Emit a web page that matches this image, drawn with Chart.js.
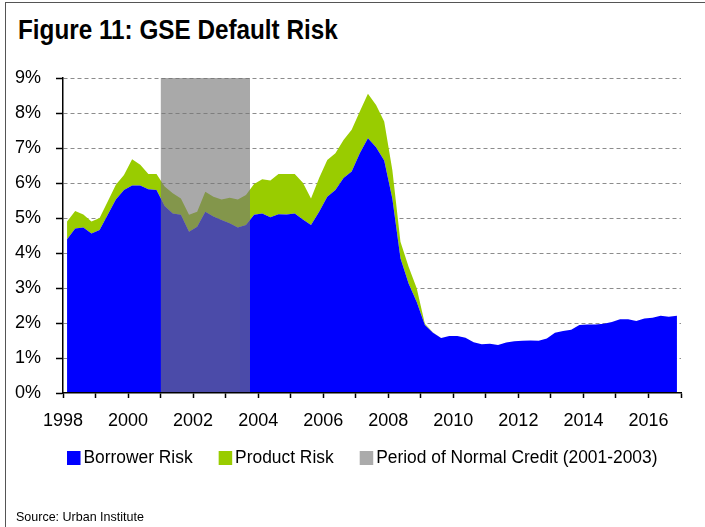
<!DOCTYPE html>
<html>
<head>
<meta charset="utf-8">
<script src="https://cdn.jsdelivr.net/npm/chart.js@4/dist/chart.umd.min.js"></script>
<style>
  body{margin:0;background:#fff;font-family:"Liberation Sans",Arial,sans-serif;}
  #wrap{position:relative;width:705px;height:527px;overflow:hidden;}
  #frame{position:absolute;left:5px;top:2px;width:800px;height:600px;border-left:1.5px solid #555;border-top:1.5px solid #555;}
  #title{position:absolute;left:18px;top:16px;font-size:28px;line-height:28px;font-weight:bold;color:#000;white-space:nowrap;transform-origin:0 0;}
  #legend{position:absolute;left:67px;top:448px;display:flex;font-size:18px;line-height:18px;color:#000;white-space:nowrap;transform-origin:0 0;}
  #legend span.it{display:flex;align-items:center;margin-right:27px;}
  #legend i{display:inline-block;width:14px;height:14px;margin-right:3px;margin-top:1px;}
  #source{position:absolute;left:16px;top:510px;font-size:13px;line-height:13px;color:#000;white-space:nowrap;transform-origin:0 0;}
  canvas{position:absolute;left:0;top:0;}
</style>
</head>
<body>
<div id="wrap">
  <div id="frame"></div>
  <div id="title">Figure 11: GSE Default Risk</div>
  <canvas id="grafico" width="705" height="527"></canvas>
  <div id="legend"></div>
  <div id="source">Source: Urban Institute</div>
</div>
<script>
// trimestres 1998Q1 .. 2016Q4
const quarters = []
for(let y=1998;y<=2016;y++){ for(let q=1;q<=4;q++){ quarters.push(y+'Q'+q) } }

const borrowerRisk = [4.39,4.70,4.73,4.56,4.66,5.09,5.53,5.80,5.93,5.93,
  5.82,5.80,5.34,5.13,5.09,4.61,4.75,5.18,5.04,4.94,
  4.85,4.73,4.80,5.09,5.13,5.02,5.11,5.10,5.13,4.96,
  4.80,5.18,5.61,5.80,6.14,6.33,6.85,7.28,7.02,6.64,
  5.56,3.85,3.13,2.60,1.94,1.72,1.57,1.63,1.63,1.58,
  1.45,1.39,1.41,1.37,1.44,1.48,1.49,1.50,1.49,1.56,
  1.72,1.77,1.81,1.94,1.96,1.96,1.98,2.03,2.11,2.11,
  2.06,2.13,2.15,2.21,2.18,2.21]
const productRisk = [0.51,0.50,0.37,0.34,0.34,0.38,0.42,0.43,0.75,0.59,
  0.44,0.46,0.56,0.58,0.47,0.48,0.43,0.57,0.57,0.59,
  0.73,0.80,0.86,0.88,0.98,1.05,1.15,1.16,1.13,1.05,
  0.76,0.96,1.05,1.05,1.09,1.19,1.19,1.27,1.21,1.12,
  0.81,0.47,0.48,0.39,0.04,0.01,0,0,0,0,
  0,0,0,0,0,0,0,0,0,0,
  0,0,0,0,0,0,0,0,0,0,
  0,0,0,0,0,0]
// periodo de credito normal (2001 - 2003Q3)
const normalPeriod = [2001, 2003.75]
const normalTop = 9

const yTicks = [0,1,2,3,4,5,6,7,8,9]
const xMin = 1998, xMax = 2017

const legendItems = [
  {label:'Borrower Risk', color:'#0000ff'},
  {label:'Product Risk', color:'#99cc00'},
  {label:'Period of Normal Credit (2001-2003)', color:'#ababab'}
]

window.addEventListener('load',()=>{
  const toX = q => parseInt(q.slice(0,4)) + (parseInt(q.slice(5))-0.5)/4
  const pts = arr => arr.map((v,i)=>({x:toX(quarters[i]), y:v}))

  const FONT = '"Liberation Sans",Arial,sans-serif'

  let ctx = document.getElementById('grafico').getContext('2d')
  new Chart(ctx,{
    type:'line',
    data:{
      datasets:[
        {
          label:'Period of Normal Credit (2001-2003)',
          data:normalPeriod.map(x=>({x:x,y:normalTop})),
          stack:'period',
          fill:'origin',
          backgroundColor:'rgba(118,118,118,0.63)',
          borderWidth:0,
          pointRadius:0,
          order:0
        },
        {
          label:'Borrower Risk',
          data:pts(borrowerRisk),
          stack:'risk',
          fill:'origin',
          backgroundColor:'#0000ff',
          borderWidth:0,
          pointRadius:0,
          tension:0,
          order:1
        },
        {
          label:'Product Risk',
          data:pts(productRisk),
          stack:'risk',
          fill:'-1',
          backgroundColor:'#99cc00',
          borderWidth:0,
          pointRadius:0,
          tension:0,
          order:2
        }
      ]
    },
    options:{
      responsive:false,
      animation:false,
      layout:{padding:{left:0,top:78,right:24,bottom:0}},
      plugins:{legend:{display:false},tooltip:{enabled:false}},
      scales:{
        x:{
          type:'linear',
          min:xMin, max:xMax,
          afterFit:s=>{ s.height = 134 },
          afterBuildTicks:s=>{
            s.ticks = []
            for(let v=xMin; v<=xMax; v++) s.ticks.push({value:v})
          },
          ticks:{
            autoSkip:false,
            maxRotation:0,
            padding:12,
            color:'#000',
            font:{family:FONT,size:18},
            callback:v => v%2===0 && v<xMax ? String(v) : ''
          },
          grid:{drawOnChartArea:false, drawTicks:true, tickLength:5, tickColor:'#000', tickWidth:1.5},
          border:{display:true, color:'#000', width:1.5, z:1}
        },
        y:{
          stacked:true,
          min:0, max:9,
          afterFit:s=>{ s.width = 63 },
          afterBuildTicks:s=>{ s.ticks = yTicks.map(v=>({value:v})) },
          ticks:{
            padding:15,
            color:'#000',
            font:{family:FONT,size:18},
            callback:v => v+'%'
          },
          grid:{
            color:c => c.tick && c.tick.value===0 ? 'rgba(0,0,0,0)' : '#8c8c8c',
            lineWidth:1,
            tickColor:'#000',
            tickLength:7,
            tickWidth:1.5
          },
          border:{display:true, color:'#000', width:1.5, dash:[4,3]}
        }
      }
    }
  })

  // leyenda
  const lg = document.getElementById('legend')
  legendItems.forEach(it=>{
    const s = document.createElement('span')
    s.className = 'it'
    s.innerHTML = '<i style="background:'+it.color+'"></i>'+it.label
    lg.appendChild(s)
  })
  lg.lastChild.style.marginRight = '0'

  // textos condensados al ancho del original
  const fitW = (el,w) => { el.style.transform = 'scaleX(' + (w/el.offsetWidth).toFixed(3) + ')' }
  fitW(document.getElementById('title'), 320)
  fitW(lg, 590)
  fitW(document.getElementById('source'), 128)
})
</script>
</body>
</html>
